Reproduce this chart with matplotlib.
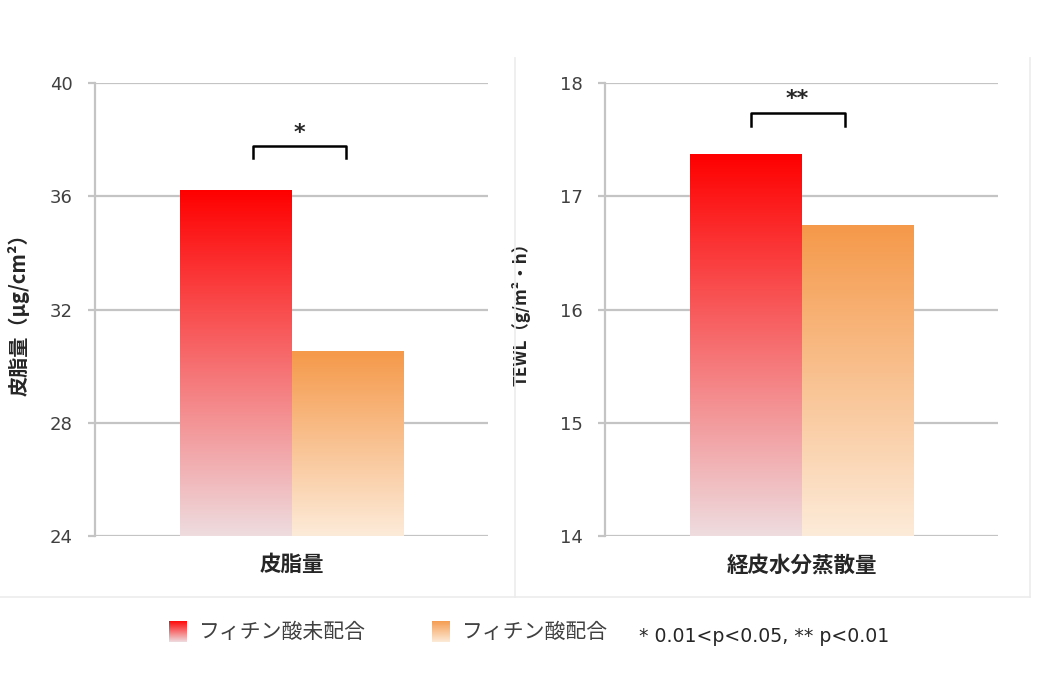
import numpy as np
import matplotlib
matplotlib.use('Agg')
import matplotlib.pyplot as plt
from matplotlib.colors import LinearSegmentedColormap
from matplotlib.lines import Line2D

plt.rcParams['font.family'] = ['Noto Sans CJK JP', 'DejaVu Sans']

# data
groups = ['フィチン酸未配合', 'フィチン酸配合']
sebum = [36.22, 30.5]
tewl = [17.37, 16.74]
categories = ['皮脂量', '経皮水分蒸散量']
ylabels = ['皮脂量（μg/cm²）', 'TEWL（g/m²・h）']
ylims = [(24, 40), (14, 18)]
yticks = [[24, 28, 32, 36, 40], [14, 15, 16, 17, 18]]
sig_marks = ['*', '**']

# gradient colours (top, bottom)
grad_colors = [('#ff0000', '#eedcdf'), ('#f5994a', '#fdebd9')]
cmaps = [LinearSegmentedColormap.from_list('g%d' % i, [c[1], c[0]])
         for i, c in enumerate(grad_colors)]
grid_col = '#c4c4c4'

fig = plt.figure(figsize=(10.4, 6.92), dpi=100)

# faint panel frames (no top edge)
frame = dict(color='#ececec', lw=1.2, transform=fig.transFigure)
fig.lines.append(Line2D([0.0, 0.99], [0.137, 0.137], **frame))
fig.lines.append(Line2D([0.495, 0.495], [0.137, 0.916], **frame))
fig.lines.append(Line2D([0.99, 0.99], [0.137, 0.916], **frame))

grad = np.linspace(0, 1, 256).reshape(-1, 1)

def draw_panel(ax, values, cat, ylab, ylim, ticks, mark, br_x, br_y, star_y, ylab_size):
    x = np.array([-0.5, 0.5])
    bars = ax.bar(x, values, width=1.0, color='none', edgecolor='none', zorder=3)
    for b, cm in zip(bars, cmaps):
        ax.imshow(grad, cmap=cm, origin='lower', aspect='auto', zorder=3,
                  extent=[b.get_x(), b.get_x() + b.get_width(), ylim[0], b.get_height()])
    ax.set_xlim(-1.76, 1.75)
    ax.set_ylim(*ylim)
    ax.set_yticks(ticks)
    ax.yaxis.grid(True, color=grid_col, lw=1.6)
    ax.set_axisbelow(True)
    for s in ['top', 'right', 'bottom']:
        ax.spines[s].set_visible(False)
    ax.spines['left'].set_color(grid_col)
    ax.spines['left'].set_linewidth(1.6)
    ax.tick_params(axis='y', length=5, width=1.6, color=grid_col, pad=11,
                   labelsize=13, labelcolor='#404040')
    for t in ax.get_yticklabels():
        t.set_family('DejaVu Sans')
    ax.set_xticks([0])
    ax.set_xticklabels([cat], fontsize=15.5, color='#262626', fontweight='bold')
    ax.tick_params(axis='x', length=0, pad=13)
    ax.set_ylabel(ylab, fontsize=ylab_size, color='#262626', fontweight='bold')
    # significance bracket
    ax.plot([br_x[0], br_x[0], br_x[1], br_x[1]], [br_y[0], br_y[1], br_y[1], br_y[0]],
            color='black', lw=1.8, zorder=4, clip_on=False)
    ax.text(sum(br_x) / 2, star_y, mark, ha='center', va='center', fontsize=16,
            family='DejaVu Sans', fontweight='bold', color='#262626')

ax1 = fig.add_axes([0.0913, 0.2254, 0.378, 0.6546])
draw_panel(ax1, sebum, categories[0], ylabels[0], ylims[0], yticks[0], sig_marks[0],
           (-0.35, 0.48), (37.35, 37.77), 38.25, 14.5)
ax1.yaxis.set_label_coords(-0.165, 0.5)

ax2 = fig.add_axes([0.5817, 0.2254, 0.378, 0.6546])
draw_panel(ax2, tewl, categories[1], ylabels[1], ylims[1], yticks[1], sig_marks[1],
           (-0.46, 0.38), (17.62, 17.735), 17.86, 12.5)
ax2.yaxis.set_label_coords(-0.19, 0.5)

# legend
sw = [(0.1625, groups[0]), (0.415, groups[1])]
for (x0, name), cm in zip(sw, cmaps):
    lax = fig.add_axes([x0, 0.072, 0.0165, 0.031])
    lax.imshow(grad, cmap=cm, origin='lower', aspect='auto')
    lax.axis('off')
    fig.text(x0 + 0.029, 0.0875, name, fontsize=15, va='center', color='#404040')
fig.text(0.614, 0.0795, '* 0.01<p<0.05, ** p<0.01', fontsize=13.6, va='center',
         family='DejaVu Sans', color='#262626')

fig.savefig('out.png', dpi=100)
